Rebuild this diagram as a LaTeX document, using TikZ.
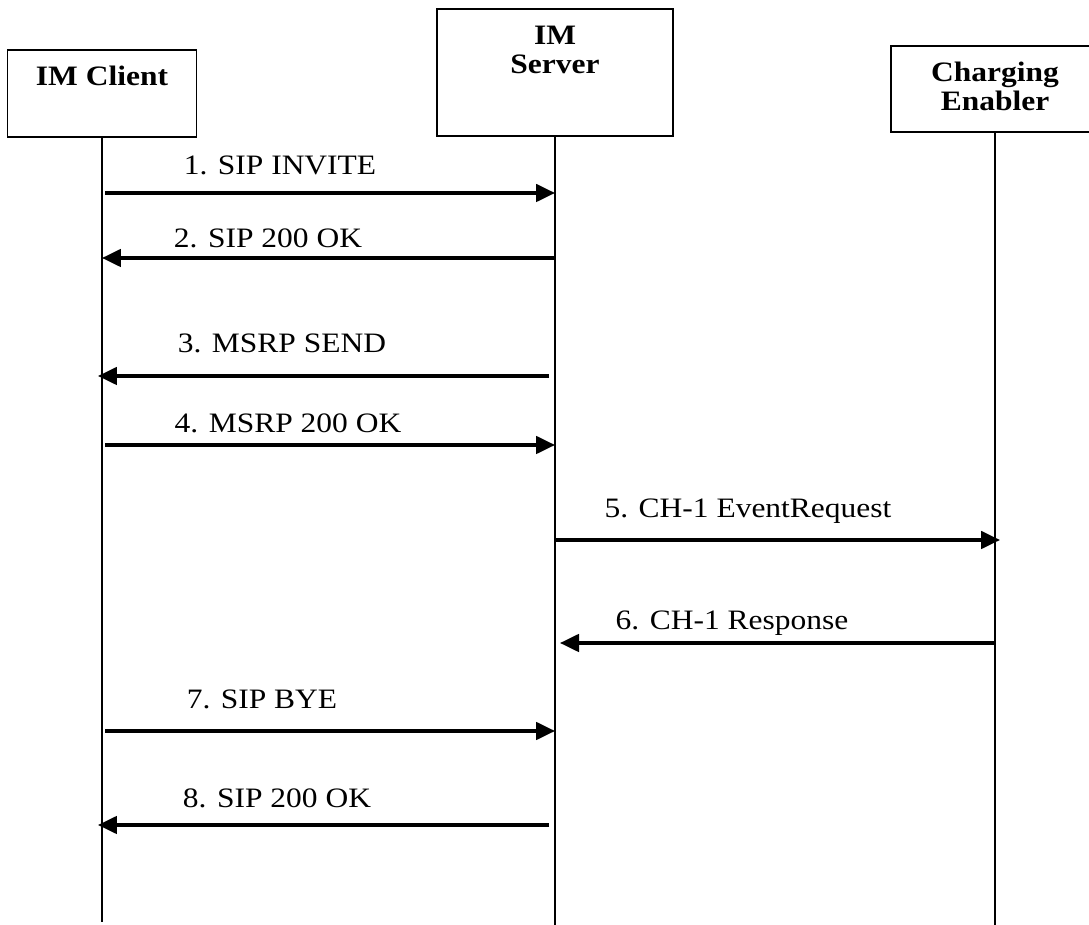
\documentclass[tikz,border=0pt]{standalone}
\usepackage{fontspec}
\setmainfont{Liberation Serif}[FakeStretch=1.12]
\usepackage{tikz}
\usetikzlibrary{arrows.meta, positioning, calc}

\begin{document}
\begin{tikzpicture}[
    x=0.02cm, y=-0.02cm,
    entity/.style={draw, line width=0.9pt, inner sep=0pt, align=center, anchor=base, font=\fontsize{16}{17}\selectfont\bfseries},
    lifeline/.style={line width=0.8pt},
    msg/.style={-{Triangle[length=0.38cm, width=0.35cm]}, line width=1.9pt},
    msglabel/.style={anchor=base, inner sep=0pt, font=\fontsize{16}{17}\selectfont}
]
    \useasboundingbox (0,0) rectangle (1089,925);

    % entities
    \node[entity, minimum width=3.78cm, text height=0.72cm, text depth=1.02cm] (client) at (102,86) {IM Client};
    \node[entity, minimum width=4.72cm, text height=1.30cm, text depth=1.24cm] (server) at (555,74) {IM\\Server};
    \node[entity, minimum width=4.16cm, text height=1.30cm, text depth=0.42cm] (charging) at (995,111) {Charging\\Enabler};

    % lifelines
    \coordinate (clientend) at (client.south |- 0,922);
    \coordinate (serverend) at (server.south |- 0,925);
    \coordinate (chargingend) at (charging.south |- 0,925);
    \draw[lifeline] (client) -- (clientend);
    \draw[lifeline] (server) -- (serverend);
    \draw[lifeline] (charging) -- (chargingend);

    % messages
    \draw[msg, shorten <=0.06cm] (client |- 0,193) -- (server |- 0,193);
    \node[msglabel] (m1) at (280,175) {1. SIP INVITE};
    \draw[msg] (server |- 0,258) -- (client |- 0,258);
    \node[msglabel] (m2) at (268,248) {2. SIP 200 OK};
    \draw[msg, shorten <=0.12cm, shorten >=-0.08cm] (server |- 0,376) -- (client |- 0,376);
    \node[msglabel] (m3) at (282,353) {3. MSRP SEND};
    \draw[msg, shorten <=0.06cm] (client |- 0,445) -- (server |- 0,445);
    \node[msglabel] (m4) at (288,433) {4. MSRP 200 OK};
    \draw[msg, shorten >=-0.1cm] (server |- 0,540) -- (charging |- 0,540);
    \node[msglabel] (m5) at (748,518) {5. CH-1 EventRequest};
    \draw[msg, shorten >=0.1cm] (charging |- 0,643) -- (server |- 0,643);
    \node[msglabel] (m6) at (732,630) {6. CH-1 Response};
    \draw[msg, shorten <=0.06cm] (client |- 0,731) -- (server |- 0,731);
    \node[msglabel] (m7) at (262,708) {7. SIP BYE};
    \draw[msg, shorten <=0.12cm, shorten >=-0.08cm] (server |- 0,825) -- (client |- 0,825);
    \node[msglabel] (m8) at (277,807) {8. SIP 200 OK};
\end{tikzpicture}
\end{document}
